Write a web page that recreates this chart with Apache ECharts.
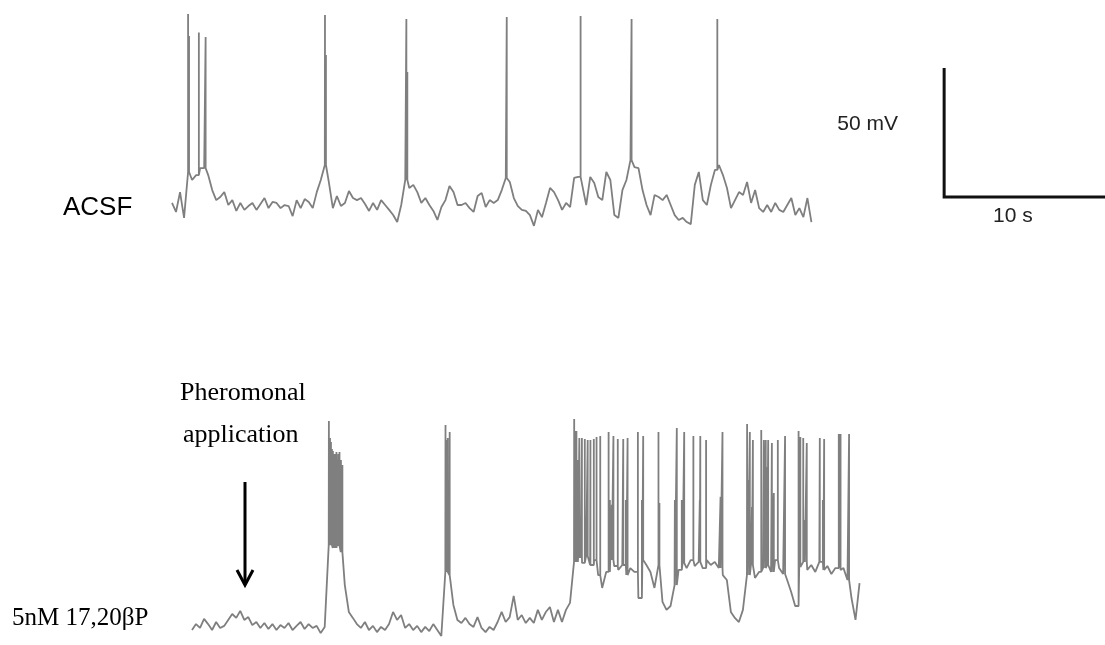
<!DOCTYPE html>
<html>
<head>
<meta charset="utf-8">
<script src="https://cdn.jsdelivr.net/npm/echarts@6/dist/echarts.min.js"></script>
<style>
  html, body { margin: 0; padding: 0; background: #fff; }
  #chart { width: 1105px; height: 645px; }
</style>
</head>
<body>
<div id="chart"></div>
<script>
// sample step of the membrane traces (s)
const DT = 0.25

// ACSF recording, membrane potential (mV), one value per DT
const acsfTrace = [
  -59.2, -62.7, -55.0, -65.0, -47.2, -50.3, -48.4, -45.7, -45.7, -48.4,
  -54.2, -58.1, -56.9, -55.0, -60.0, -58.1, -62.3, -59.2, -61.9, -60.4,
  -59.2, -61.9, -59.6, -57.3, -61.2, -58.8, -59.2, -61.2, -60.0, -60.4,
  -64.3, -58.1, -61.2, -57.7, -58.8, -61.2, -55.0, -50.3, -44.5, -51.1,
  -61.2, -56.5, -60.4, -59.2, -54.6, -57.3, -58.1, -57.3, -59.6, -62.3,
  -59.2, -61.9, -58.1, -60.0, -61.9, -63.9, -66.6, -60.0, -50.3, -53.4,
  -52.2, -55.0, -59.2, -57.3, -60.0, -62.3, -65.8, -60.8, -58.1, -52.6,
  -55.0, -60.0, -60.0, -59.2, -61.2, -62.7, -56.5, -55.3, -60.8, -58.1,
  -59.2, -58.1, -54.2, -49.5, -51.1, -57.3, -60.4, -61.9, -62.3, -63.9,
  -68.1, -61.9, -64.7, -59.2, -53.4, -55.0, -58.1, -61.9, -59.2, -60.8,
  -49.5, -49.1, -48.4, -60.0, -49.1, -51.5, -56.9, -58.1, -47.2, -50.3,
  -63.9, -65.0, -54.2, -50.3, -42.6, -45.3, -45.7, -54.2, -60.0, -63.9,
  -56.1, -56.9, -58.1, -56.1, -60.0, -63.9, -65.8, -65.0, -66.6, -67.4,
  -52.2, -47.2, -58.1, -60.0, -52.2, -46.4, -44.5, -48.4, -53.4, -61.2,
  -58.1, -55.0, -56.1, -51.1, -59.2, -54.2, -61.2, -62.7, -60.0, -62.7,
  -59.2, -61.9, -62.7, -60.0, -57.3, -63.9, -61.2, -64.7, -57.3, -66.6
]
// action potentials: [time s, peak mV]
const acsfSpikes = [
  [1.0, 14.0], [1.06, 5.5], [1.67, 6.9], [2.09, 5.1], [9.51, 13.6], [9.57, -1.9],
  [14.57, 12.1], [14.63, -8.4], [20.81, 12.9], [25.4, 13.3], [28.57, 12.1], [33.9, 12.1]
]

// 5nM 17,20bP recording
const pheroTrace = [
  -60.0, -57.7, -59.2, -55.7, -57.7, -60.0, -56.9, -59.2, -58.4, -56.1,
  -53.8, -55.3, -52.6, -56.1, -55.0, -58.1, -56.9, -59.2, -57.3, -59.6,
  -57.7, -60.0, -58.1, -59.2, -57.3, -60.0, -58.4, -56.9, -59.6, -57.7,
  -59.2, -58.4, -61.2, -58.8, -27.1, -28.2, -27.4, -29.8, -42.6, -53.0,
  -55.3, -57.7, -59.2, -56.9, -60.0, -58.4, -60.8, -58.8, -60.0, -57.7,
  -53.0, -56.1, -54.2, -59.2, -57.7, -60.0, -58.4, -60.8, -58.8, -60.4,
  -57.7, -60.0, -62.3, -37.5, -38.7, -50.3, -56.1, -57.3, -55.3, -57.7,
  -58.8, -55.0, -59.2, -60.8, -58.8, -60.0, -56.9, -53.0, -56.9, -55.0,
  -46.8, -56.1, -54.2, -57.3, -55.3, -57.3, -52.2, -56.1, -53.0, -51.1,
  -56.9, -52.2, -56.9, -52.2, -49.5, -33.6, -32.1, -34.0, -31.3, -34.8,
  -32.9, -38.7, -43.7, -37.5, -32.9, -35.2, -36.7, -34.8, -38.7, -36.0,
  -37.5, -47.6, -32.9, -34.8, -37.5, -43.7, -34.8, -49.1, -52.2, -50.7,
  -42.6, -36.7, -34.0, -36.0, -32.9, -35.2, -33.6, -36.0, -32.9, -34.8,
  -33.6, -36.0, -38.7, -40.6, -53.0, -55.3, -56.9, -52.2, -38.7, -34.8,
  -39.8, -37.5, -36.0, -34.8, -37.5, -32.9, -36.0, -38.3, -40.6, -45.3,
  -50.7, -35.6, -33.6, -36.7, -34.8, -37.5, -33.6, -36.7, -35.2, -38.3,
  -36.0, -36.7, -36.0, -40.6, -47.6, -56.1, -41.8
]
const pheroSpikes = [
  // first burst
  [8.51, 21.0], [8.58, 14.4], [8.64, 12.9], [8.70, 10.2], [8.76, 9.4], [8.87, 8.2],
  [8.92, -9.6], [8.98, 9.0], [9.10, 8.2], [9.17, 9.0], [9.26, 5.9], [9.35, 4.0],
  // second burst
  [15.76, 19.5], [15.82, 13.6], [15.90, 14.4], [16.02, 16.7],
  // depolarised plateau
  [23.76, 21.8], [23.78, -11.5], [23.8, 14.0], [23.85, 17.1], [23.9, 17.1], [23.93, -19.3],
  [23.99, 5.9], [24.08, 14.4], [24.17, -25.1], [24.24, 14.4], [24.42, 14.0], [24.6, 13.6],
  [24.77, 13.6], [24.98, 14.0], [25.15, 14.8], [25.38, 15.2], [25.9, 16.7], [25.98, -9.6],
  [26.1, -11.5], [26.2, 15.2], [26.47, 14.0], [26.81, 14.0], [26.97, -9.6], [27.08, 14.4],
  [27.72, 16.7], [27.97, -9.6], [28.05, 15.2], [29.0, 16.7], [29.06, -10.8], [30.02, -9.6],
  [30.14, 18.3], [30.45, -9.6], [30.6, 16.7], [31.17, 15.2], [31.57, -9.6], [31.6, 15.2],
  [31.96, 13.6], [32.86, -8.4], [32.98, 16.7], [34.51, 19.8], [34.56, -1.9], [34.68, 16.7],
  [34.81, -12.3], [34.87, 13.6], [35.39, 17.5], [35.55, 13.6], [35.67, 13.6], [35.76, 3.2],
  [35.82, 13.6], [36.05, 12.5], [36.17, -6.9], [36.42, 13.6], [36.87, 15.2], [37.71, 17.1],
  [37.82, 14.8], [38.0, 14.4], [38.1, -17.4], [38.22, 12.5], [39.03, 14.4], [39.22, -9.6],
  [39.3, 14.0], [40.21, 16.0], [40.32, 16.0], [40.85, 16.0]
]

// scale bar: 10 s, 50 mV
const scaleBar = [[48, -6.9], [48, -56.9], [58, -56.9]]

// baseline samples plus vertical strokes for each spike
function buildTrace(base, spikes) {
  const pts = base.map((v, i) => [i * DT, v])
  spikes.forEach(([t, peak]) => {
    const b = base[Math.min(base.length - 1, Math.floor(t / DT + 1e-9))]
    pts.push([t, b], [t, peak], [t, b])
  })
  return pts.sort((a, b) => a[0] - b[0])
}

const myChart = echarts.init(document.getElementById('chart'))
const traceStyle = { color: '#7f7f7f', width: 1.8 }
const sans = 'Liberation Sans, Arial, sans-serif'
const serif = 'Liberation Serif, Times New Roman, serif'

myChart.setOption({
  animation: false,
  backgroundColor: '#fff',
  grid: [
    { left: 172, right: 0, top: 0, height: 250 },
    { left: 192, right: 0, top: 330, height: 315 }
  ],
  xAxis: [
    { type: 'value', gridIndex: 0, min: 0, max: 58, show: false },
    { type: 'value', gridIndex: 1, min: 0, max: 56.76, show: false }
  ],
  yAxis: [
    { type: 'value', gridIndex: 0, min: -77.44, max: 19.46, show: false },
    { type: 'value', gridIndex: 1, min: -65.81, max: 56.28, show: false }
  ],
  series: [
    {
      type: 'line', xAxisIndex: 0, yAxisIndex: 0,
      data: buildTrace(acsfTrace, acsfSpikes),
      showSymbol: false, lineStyle: traceStyle, clip: false
    },
    {
      type: 'line', xAxisIndex: 1, yAxisIndex: 1,
      data: buildTrace(pheroTrace, pheroSpikes),
      showSymbol: false, lineStyle: traceStyle, clip: false
    },
    {
      type: 'line', xAxisIndex: 0, yAxisIndex: 0,
      data: scaleBar,
      showSymbol: false, clip: false,
      lineStyle: { color: '#111', width: 3, join: 'miter' }
    }
  ],
  graphic: [
    { type: 'text', left: 63, top: 195, style: { text: 'ACSF', font: '26px ' + sans, fill: '#000' } },
    { type: 'text', right: 207, top: 114, style: { text: '50 mV', font: '21px ' + sans, fill: '#222' } },
    { type: 'text', left: 993, top: 206, style: { text: '10 s', font: '21px ' + sans, fill: '#222' } },
    { type: 'text', left: 12, top: 606, style: { text: '5nM 17,20βP', font: '25px ' + serif, fill: '#000' } },
    { type: 'text', left: 180, top: 380, style: { text: 'Pheromonal', font: '26px ' + serif, fill: '#000' } },
    { type: 'text', left: 183, top: 422, style: { text: 'application', font: '26px ' + serif, fill: '#000' } },
    {
      type: 'group',
      children: [
        { type: 'line', shape: { x1: 245, y1: 482, x2: 245, y2: 583 }, style: { stroke: '#000', lineWidth: 3 } },
        { type: 'polyline', shape: { points: [[237, 570], [245, 585], [253, 570]] }, style: { stroke: '#000', lineWidth: 3, fill: null } }
      ]
    }
  ]
})
window.addEventListener('resize', () => myChart.resize())
</script>
</body>
</html>
